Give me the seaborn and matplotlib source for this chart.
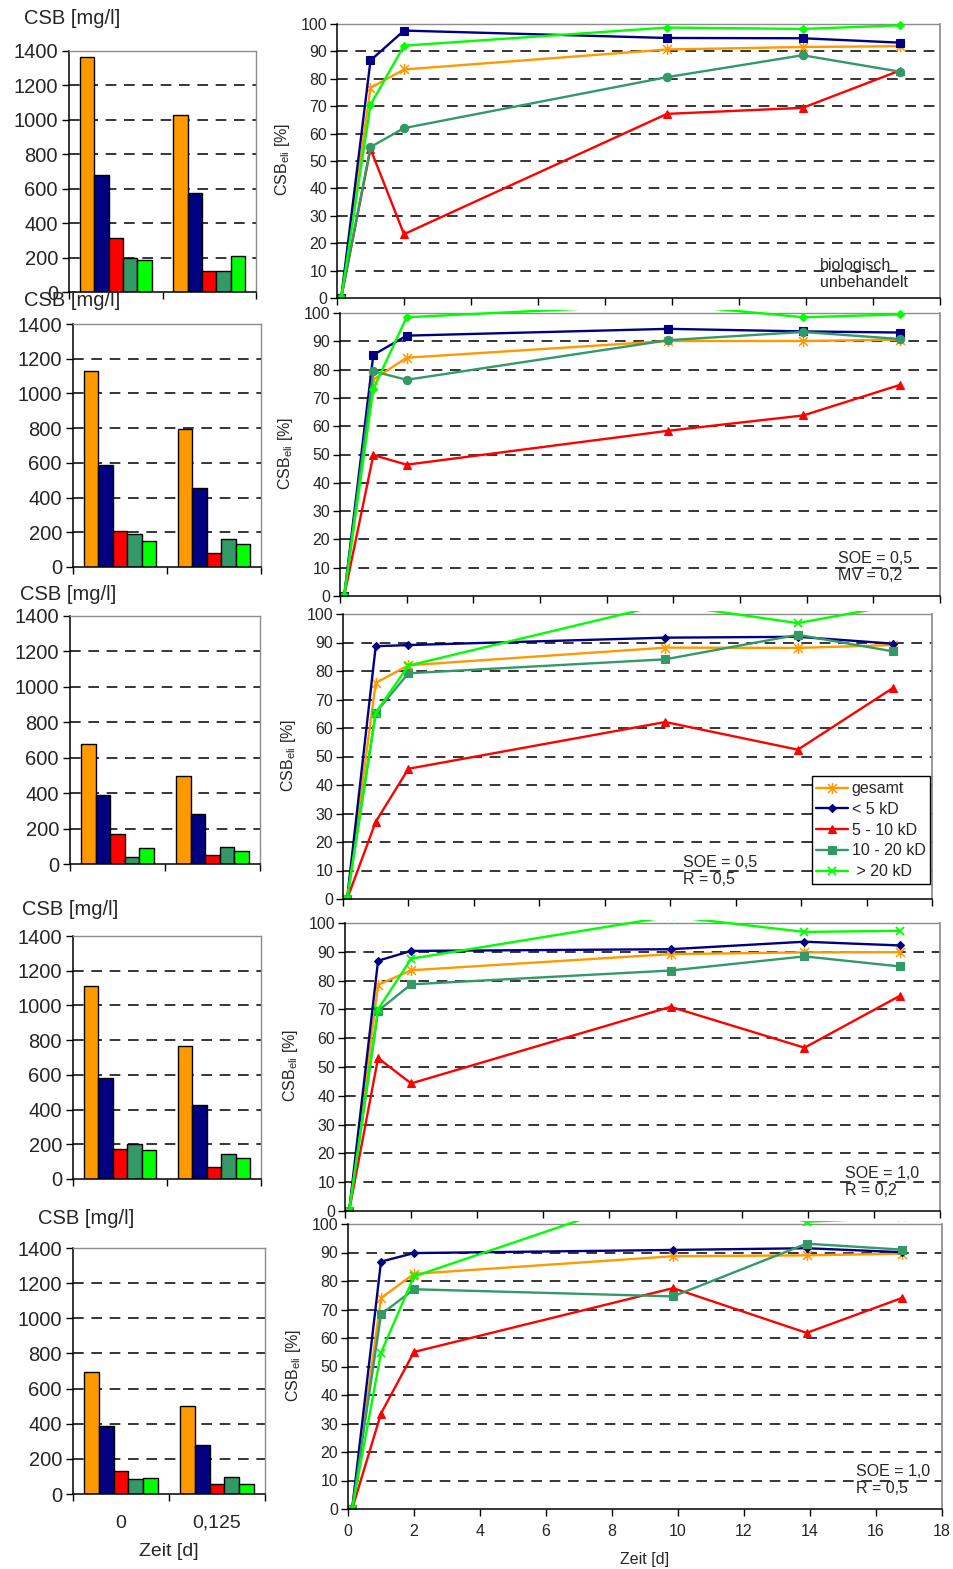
import matplotlib
matplotlib.use("Agg")
import matplotlib.pyplot as plt
from matplotlib.path import Path
import numpy as np
import pandas as pd
import seaborn as sns

sns.set_theme(style="white")
plt.rcParams["font.family"] = ["Liberation Sans", "DejaVu Sans"]
plt.rcParams["mathtext.default"] = "regular"

# ---------------------------------------------------------------- data
FRACTIONS = ["gesamt", "< 5 kD", "5 - 10 kD", "10 - 20 kD", " > 20 kD"]
COLORS = ["#FF9900", "#000080", "#FF0000", "#339966", "#00FF00"]
BAR_TIMES = ["0", "0,125"]
DAYS = [0.125, 1.0, 2.0, 9.85, 13.9, 16.8]

# CSB concentration [mg/l] per fraction at t = 0 and t = 0,125 d
CSB_BIO_T0 = [1363, 680, 316, 196, 186]
CSB_BIO_T1 = [1028, 577, 124, 122, 211]
CSB_MV02_T0 = [1129, 588, 205, 192, 150]
CSB_MV02_T1 = [793, 457, 83, 159, 134]
CSB_S05R05_T0 = [678, 391, 171, 39, 88]
CSB_S05R05_T1 = [496, 284, 51, 94, 73]
CSB_S10R02_T0 = [1114, 580, 173, 200, 165]
CSB_S10R02_T1 = [768, 424, 71, 142, 121]
CSB_S10R05_T0 = [695, 388, 131, 85, 93]
CSB_S10R05_T1 = [498, 281, 59, 99, 57]

# CSB elimination [%] over time, order of FRACTIONS
ELI_BIO = [
    [0, 76.7, 83.4, 90.7, 91.6, 91.9],
    [0, 86.7, 97.6, 94.9, 94.8, 93.2],
    [0, 54.4, 23.3, 67.2, 69.4, 83.0],
    [0, 55.1, 62.0, 80.6, 88.6, 82.6],
    [0, 70.5, 92.1, 98.7, 98.2, 99.5],
]
ELI_MV02 = [
    [0, 76.5, 84.2, 90.1, 90.1, 90.6],
    [0, 85.2, 92.0, 94.4, 93.5, 93.1],
    [0, 49.8, 46.4, 58.4, 63.8, 74.6],
    [0, 79.4, 76.4, 90.4, 93.3, 90.8],
    [0, 73.2, 98.5, 103.0, 98.5, 99.5],
]
ELI_S05R05 = [
    [0, 75.8, 82.0, 88.2, 88.1, 89.1],
    [0, 88.7, 89.1, 91.7, 92.0, 89.6],
    [0, 27.1, 45.7, 62.1, 52.4, 74.0],
    [0, 65.4, 79.2, 84.1, 92.7, 86.9],
    [0, 65.3, 81.9, 103.5, 96.8, 102.9],
]
ELI_S10R02 = [
    [0, 78.5, 83.6, 89.2, 89.8, 89.9],
    [0, 86.9, 90.3, 90.9, 93.5, 92.2],
    [0, 53.1, 44.3, 70.9, 56.7, 74.8],
    [0, 69.5, 78.7, 83.5, 88.4, 84.9],
    [0, 70.0, 87.6, 102.3, 96.9, 97.3],
]
ELI_S10R05 = [
    [0, 74.0, 82.5, 88.7, 89.0, 89.6],
    [0, 86.8, 89.8, 90.9, 91.5, 90.1],
    [0, 33.5, 55.1, 77.5, 61.8, 74.1],
    [0, 68.3, 77.1, 74.6, 93.1, 91.0],
    [0, 54.8, 81.6, 112.5, 100.8, 102.3],
]

NOTES = ["biologisch\nunbehandelt", "SOE = 0,5\nMV = 0,2", "SOE = 0,5\nR = 0,5",
         "SOE = 1,0\nR = 0,2", "SOE = 1,0\nR = 0,5"]

# ---------------------------------------------------------------- styling
W, H = 954, 1569
fig = plt.figure(figsize=(W / 100, H / 100), dpi=100)
fig.patch.set_facecolor("white")

ASTERISK = Path([(-1, -1), (1, 1), (-1, 1), (1, -1), (0, -1.25), (0, 1.25)],
                [Path.MOVETO, Path.LINETO, Path.MOVETO, Path.LINETO, Path.MOVETO, Path.LINETO])
MARK_A = [ASTERISK, "s", "^", "o", "D"]
MARK_B = [ASTERISK, "D", "^", "s", "x"]
MSIZE = {"s": 6, "^": 6, "o": 6, "D": 4.5, "x": 6}

DASH = (0, (7, 5))
GRAY = "#8c8c8c"


def axes_px(l, r, t, b):
    return fig.add_axes([l / W, 1 - b / H, (r - l) / W, (b - t) / H])


def draw_bars(ax, t0, t1, bottom):
    df = pd.DataFrame({
        "Zeit": np.repeat(BAR_TIMES, len(FRACTIONS)),
        "Fraktion": FRACTIONS * 2,
        "CSB": list(t0) + list(t1),
    })
    sns.barplot(data=df, x="Zeit", y="CSB", hue="Fraktion", order=BAR_TIMES,
                hue_order=FRACTIONS, palette=COLORS, saturation=1, width=0.77,
                edgecolor="black", linewidth=1.0, errorbar=None, legend=False, ax=ax)
    ax.set_xlim(-0.5, 1.5)
    ax.set_ylim(0, 1400)
    ax.set_yticks(range(0, 1401, 200))
    for v in range(200, 1400, 200):
        ax.axhline(v, color="black", lw=1.1, ls=DASH, zorder=0.5)
    ax.set_facecolor("white")
    for s in ("left", "bottom"):
        ax.spines[s].set_color("black")
        ax.spines[s].set_linewidth(1.1)
    for s in ("top", "right"):
        ax.spines[s].set_color(GRAY)
        ax.spines[s].set_linewidth(1.0)
    ax.set_xticks([-0.5, 0.5, 1.5], minor=True)
    ax.tick_params(axis="y", left=True, direction="out", length=5, width=1,
                   color="black", labelsize=14.5, pad=3)
    ax.tick_params(axis="x", which="minor", bottom=True, direction="out",
                   length=5, width=1, color="black")
    ax.tick_params(axis="x", which="major", length=0, labelsize=14, pad=15,
                   labelbottom=bottom)
    ax.set_ylabel("")
    if bottom:
        ax.set_xlabel("Zeit [d]", fontsize=14, labelpad=8)
    else:
        ax.set_xlabel("")


def draw_lines(ax, series, markers, bottom):
    for name, col, vals, mk in zip(FRACTIONS, COLORS, series, markers):
        if mk is ASTERISK:
            kw = dict(markersize=8, markeredgewidth=1.1, markerfacecolor="none")
        elif mk == "x":
            kw = dict(markersize=6, markeredgewidth=1.3)
        else:
            kw = dict(markersize=MSIZE[mk], markeredgewidth=0.8, markerfacecolor=col)
        sns.lineplot(x=DAYS, y=vals, color=col, marker=mk, markeredgecolor=col,
                     linewidth=1.7, label=name, legend=False, ax=ax, **kw)
    ax.set_xlim(0, 18)
    ax.set_ylim(0, 101)
    ax.set_xticks(range(0, 19, 2))
    ax.set_yticks(range(0, 101, 10))
    for v in range(10, 100, 10):
        ax.axhline(v, color="black", lw=1.1, ls=DASH, zorder=0.5)
    ax.axhline(100, color=GRAY, lw=1.0, zorder=0.5)
    ax.spines["top"].set_visible(False)
    ax.spines["right"].set_color(GRAY)
    ax.spines["right"].set_bounds(0, 100)
    ax.spines["left"].set_bounds(0, 100)
    for s in ("left", "bottom"):
        ax.spines[s].set_color("black")
        ax.spines[s].set_linewidth(1.1)
    ax.tick_params(axis="both", left=True, bottom=True, direction="out", length=5,
                   width=1, color="black", labelsize=11.5, pad=2)
    ax.tick_params(axis="x", labelbottom=bottom, pad=6)
    ax.set_ylabel(r"CSB$_{\mathregular{eli}}$ [%]", fontsize=11.5, labelpad=6)
    ax.set_xlabel("Zeit [d]" if bottom else "", fontsize=11.5, labelpad=9)


BAR_DATA = [(CSB_BIO_T0, CSB_BIO_T1), (CSB_MV02_T0, CSB_MV02_T1),
            (CSB_S05R05_T0, CSB_S05R05_T1), (CSB_S10R02_T0, CSB_S10R02_T1),
            (CSB_S10R05_T0, CSB_S10R05_T1)]
LINE_DATA = [ELI_BIO, ELI_MV02, ELI_S05R05, ELI_S10R02, ELI_S10R05]
LINE_MARKS = [MARK_A, MARK_A, MARK_B, MARK_B, MARK_B]

BAR_BOX = [(69, 256, 51, 292), (73, 261, 324, 567), (70, 260, 616, 864),
           (73, 261, 936, 1179), (73, 265, 1248, 1494)]
LINE_BOX = [(337, 940, 24, 298), (340, 940, 313, 596), (343, 932, 614, 899),
            (345, 940, 923, 1211), (348, 942, 1224, 1509)]
TITLE_POS = [(24, 19), (24, 300), (20, 594), (22, 910), (38, 1218)]
NOTE_POS = [(820, 274), (838, 567), (683, 871), (845, 1182), (856, 1480)]

for i in range(5):
    last = i == 4
    l, r, t, b = BAR_BOX[i]
    axb = axes_px(l, r, t, b)
    draw_bars(axb, *BAR_DATA[i], bottom=last)
    tx, ty = TITLE_POS[i]
    fig.text(tx / W, 1 - ty / H, "CSB [mg/l]", fontsize=14.5, ha="left", va="center")

    l, r, t, b = LINE_BOX[i]
    t = t - (b - t) * 0.01
    axl = axes_px(l, r, t, b)
    draw_lines(axl, LINE_DATA[i], LINE_MARKS[i], bottom=last)
    nx, ny = NOTE_POS[i]
    fig.text(nx / W, 1 - ny / H, NOTES[i], fontsize=11.5, ha="left", va="center",
             linespacing=1.15)
    if i == 2:
        leg = axl.legend(loc="lower right", bbox_to_anchor=(0.997, 0.052),
                         borderaxespad=0, fontsize=11.5, frameon=True, fancybox=False,
                         framealpha=1, edgecolor="black", handlelength=2.0,
                         handletextpad=0.2, labelspacing=0.36, borderpad=0.3)
        leg.get_frame().set_linewidth(1.0)

fig.savefig("out.png", dpi=100, facecolor="white")
